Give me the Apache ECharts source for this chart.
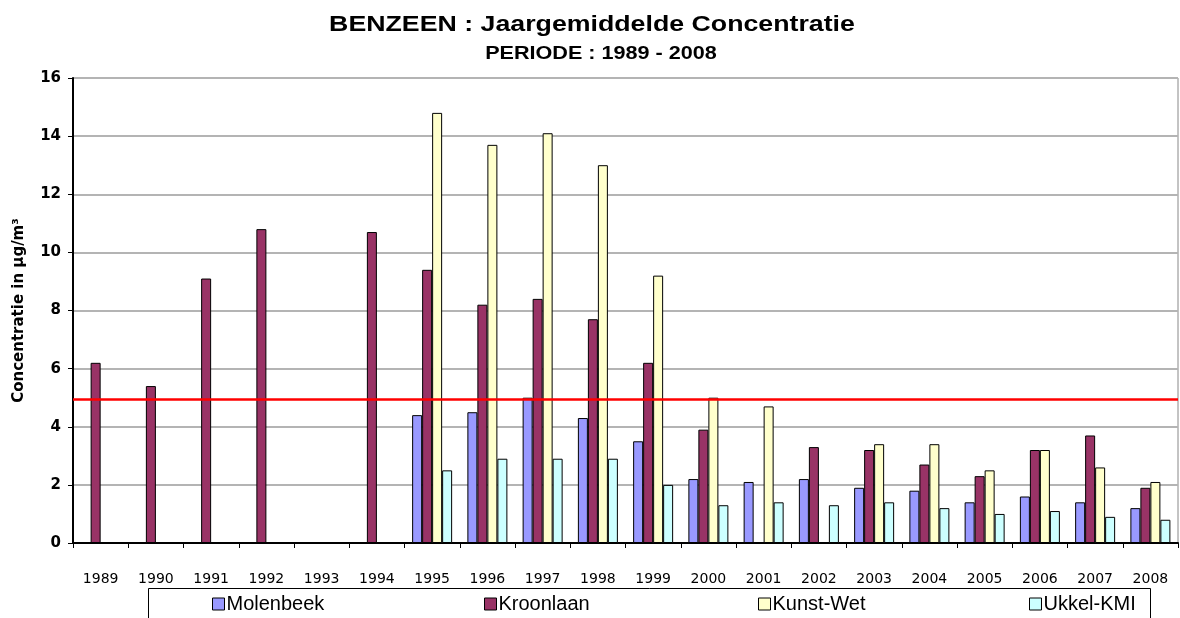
<!DOCTYPE html>
<html>
<head>
<meta charset="utf-8">
<script src="https://cdn.jsdelivr.net/npm/echarts@6/dist/echarts.min.js"></script>
<style>
  html, body { margin: 0; padding: 0; background: #fff; }
  #chart { width: 1180px; height: 618px; }
</style>
</head>
<body>
<div id="chart"></div>
<script>
const years = ['1989', '1990', '1991', '1992', '1993', '1994', '1995', '1996', '1997', '1998',
  '1999', '2000', '2001', '2002', '2003', '2004', '2005', '2006', '2007', '2008'];

const molenbeek = [null, null, null, null, null, null, 4.4, 4.5, 5.0, 4.3,
  3.5, 2.2, 2.1, 2.2, 1.9, 1.8, 1.4, 1.6, 1.4, 1.2];
const kroonlaan = [6.2, 5.4, 9.1, 10.8, null, 10.7, 9.4, 8.2, 8.4, 7.7,
  6.2, 3.9, null, 3.3, 3.2, 2.7, 2.3, 3.2, 3.7, 1.9];
const kunstWet = [null, null, null, null, null, null, 14.8, 13.7, 14.1, 13.0,
  9.2, 5.0, 4.7, null, 3.4, 3.4, 2.5, 3.2, 2.6, 2.1];
const ukkel = [null, null, null, null, null, null, 2.5, 2.9, 2.9, 2.9,
  2.0, 1.3, 1.4, 1.3, 1.4, 1.2, 1.0, 1.1, 0.9, 0.8];

const limitValue = 4.95;

const seriesNames = ['Molenbeek', 'Kroonlaan', 'Kunst-Wet', 'Ukkel-KMI'];
const seriesColors = ['#9999ff', '#993366', '#ffffcc', '#ccffff'];
const seriesData = [molenbeek, kroonlaan, kunstWet, ukkel];
const legendLeft = [212, 484, 758, 1029];

const wide = '"DejaVu Sans", Arial, sans-serif';
const arial = 'Arial, "Liberation Sans", sans-serif';

const chart = echarts.init(document.getElementById('chart'));

const series = seriesNames.map((name, i) => ({
  name,
  type: 'bar',
  data: seriesData[i],
  barWidth: 10,
  barGap: '0%',
  itemStyle: { color: seriesColors[i], borderColor: '#000', borderWidth: 1 },
  emphasis: { disabled: true },
}));

// grenswaarde
series[0].markLine = {
  silent: true,
  symbol: ['none', 'none'],
  label: { show: false },
  lineStyle: { color: '#ff0000', width: 2.5, type: 'solid' },
  data: [{ yAxis: limitValue }],
};

chart.setOption({
  animation: false,
  backgroundColor: '#fff',
  legend: seriesNames.map((name, i) => ({
    data: [{ name, icon: 'rect' }],
    left: legendLeft[i],
    top: 594,
    itemWidth: 12,
    itemHeight: 12,
    itemGap: 0,
    padding: 0,
    selectedMode: false,
    textStyle: { fontFamily: arial, fontSize: 20, color: '#000', padding: [0, 0, 0, -3] },
    itemStyle: { borderColor: '#000', borderWidth: 1 },
  })),
  graphic: [
    {
      // titel, wat breder getrokken zoals in het origineel
      type: 'text',
      x: 592, y: 25,
      scaleX: 1.215,
      style: {
        text: 'BENZEEN : Jaargemiddelde Concentratie',
        font: 'bold 22px ' + arial,
        fill: '#000',
        align: 'center',
        verticalAlign: 'middle',
      },
      silent: true,
    },
    {
      type: 'text',
      x: 601, y: 54,
      scaleX: 1.2,
      style: {
        text: 'PERIODE : 1989 - 2008',
        font: 'bold 18px ' + arial,
        fill: '#000',
        align: 'center',
        verticalAlign: 'middle',
      },
      silent: true,
    },
    {
      type: 'rect',
      shape: { x: 148.5, y: 588.5, width: 1002, height: 40 },
      style: { fill: 'none', stroke: '#000', lineWidth: 1 },
      silent: true,
      z: -1,
    },
  ],
  grid: {
    left: 73, right: 2, top: 78, bottom: 75,
    show: true, borderColor: '#888', borderWidth: 1,
  },
  xAxis: {
    type: 'category',
    data: years,
    axisLine: { lineStyle: { color: '#000', width: 2 } },
    axisTick: { show: true, length: 5, lineStyle: { color: '#000' } },
    axisLabel: { fontFamily: wide, fontSize: 14, color: '#000', margin: 29 },
  },
  yAxis: {
    type: 'value',
    min: 0,
    max: 16,
    interval: 2,
    name: 'Concentratie in µg/m³',
    nameLocation: 'middle',
    nameGap: 46,
    nameTextStyle: { fontFamily: wide, fontSize: 15, fontWeight: 'bold', color: '#000' },
    axisLine: { show: true, lineStyle: { color: '#000', width: 2 } },
    axisTick: { show: true, length: 5, lineStyle: { color: '#000' } },
    axisLabel: { fontFamily: wide, fontSize: 15, fontWeight: 'bold', color: '#000', margin: 12 },
    splitLine: { lineStyle: { color: '#b4b4b4', width: 2 } },
  },
  series,
});
</script>
</body>
</html>
